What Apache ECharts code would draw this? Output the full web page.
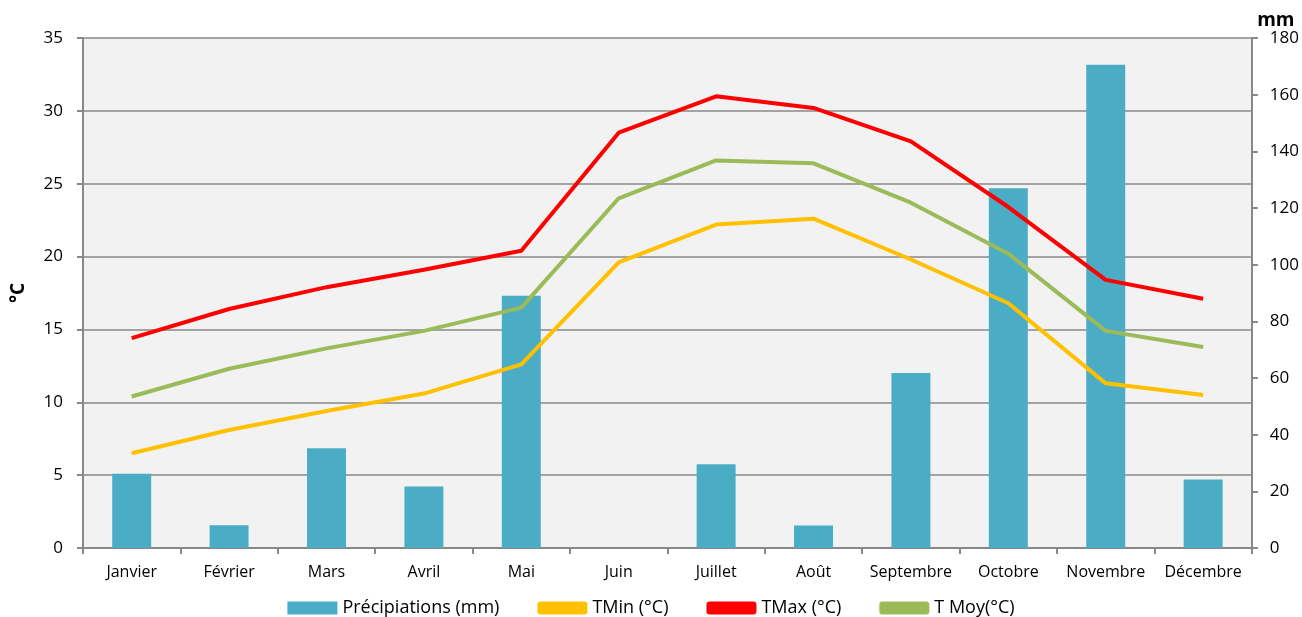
<!DOCTYPE html>
<html><head><meta charset="utf-8">
<script src="https://cdn.jsdelivr.net/npm/echarts@6/dist/echarts.min.js"></script>
<style>html,body{margin:0;padding:0;background:#fff}#c{width:1302px;height:617px}</style>
</head><body><div id="c"></div>
<script>
const months = ['Janvier','Février','Mars','Avril','Mai','Juin','Juillet','Août','Septembre','Octobre','Novembre','Décembre'];
const precip = [26.2, 8, 35.2, 21.7, 89, 0, 29.6, 7.9, 61.8, 127, 170.6, 24.2];
const tmin = [6.5, 8.1, 9.4, 10.6, 12.6, 19.6, 22.2, 22.6, 19.8, 16.8, 11.3, 10.5];
const tmax = [14.4, 16.4, 17.9, 19.1, 20.4, 28.5, 31.0, 30.2, 27.9, 23.4, 18.4, 17.1];
const tmoy = [10.4, 12.3, 13.7, 14.9, 16.5, 24.0, 26.6, 26.4, 23.7, 20.2, 14.9, 13.8];
const font = 'Open Sans, sans-serif';
const chart = echarts.init(document.getElementById('c'), null, {renderer:'canvas'});
chart.setOption({
  animation:false,
  textStyle:{fontFamily:font},
  grid:{left:83,right:50,top:38,bottom:69,show:true,backgroundColor:'#f2f2f2',borderWidth:0},
  legend:{top:594,left:'center',itemGap:38,itemWidth:50,itemHeight:13,
    textStyle:{fontSize:18,color:'#000',fontFamily:font},
    data:[{name:'Précipiations (mm)',icon:'rect'},{name:'TMin (°C)',icon:'roundRect'},{name:'TMax (°C)',icon:'roundRect'},{name:'T Moy(°C)',icon:'roundRect'}]},
  xAxis:{type:'category',data:months,
    axisLine:{lineStyle:{color:'#888',width:2}},
    axisTick:{show:true,interval:0,length:6,lineStyle:{color:'#888',width:2}},
    axisLabel:{interval:0,color:'#000',fontSize:16,margin:16}},
  yAxis:[
    {type:'value',min:0,max:35,interval:5,name:'°C',nameLocation:'middle',nameGap:55,nameRotate:90,
     nameTextStyle:{fontSize:19,fontWeight:'bold',color:'#000'},
     axisLine:{show:true,lineStyle:{color:'#888',width:2}},
     axisTick:{show:true,length:6,lineStyle:{color:'#888',width:2}},
     axisLabel:{color:'#000',fontSize:17,margin:20},
     splitLine:{lineStyle:{color:'#888',width:1.5}}},
    {type:'value',min:0,max:180,interval:20,name:'mm',nameGap:8,
     nameTextStyle:{fontSize:19,fontWeight:'bold',color:'#000',align:'center',padding:[0,0,0,48]},
     axisLine:{show:true,lineStyle:{color:'#888',width:2}},
     axisTick:{show:true,length:6,lineStyle:{color:'#888',width:2}},
     axisLabel:{color:'#000',fontSize:17,margin:18},
     splitLine:{show:false}}
  ],
  series:[
    {name:'Précipiations (mm)',type:'bar',yAxisIndex:1,data:precip,barWidth:'40%',
     itemStyle:{color:'#4bacc6',borderWidth:0}},
    {name:'TMin (°C)',type:'line',data:tmin,symbol:'none',lineStyle:{color:'#ffc000',width:4},itemStyle:{color:'#ffc000'}},
    {name:'TMax (°C)',type:'line',data:tmax,symbol:'none',lineStyle:{color:'#ff0000',width:4},itemStyle:{color:'#ff0000'}},
    {name:'T Moy(°C)',type:'line',data:tmoy,symbol:'none',lineStyle:{color:'#9bbb59',width:4},itemStyle:{color:'#9bbb59'}}
  ]
});
</script></body></html>
